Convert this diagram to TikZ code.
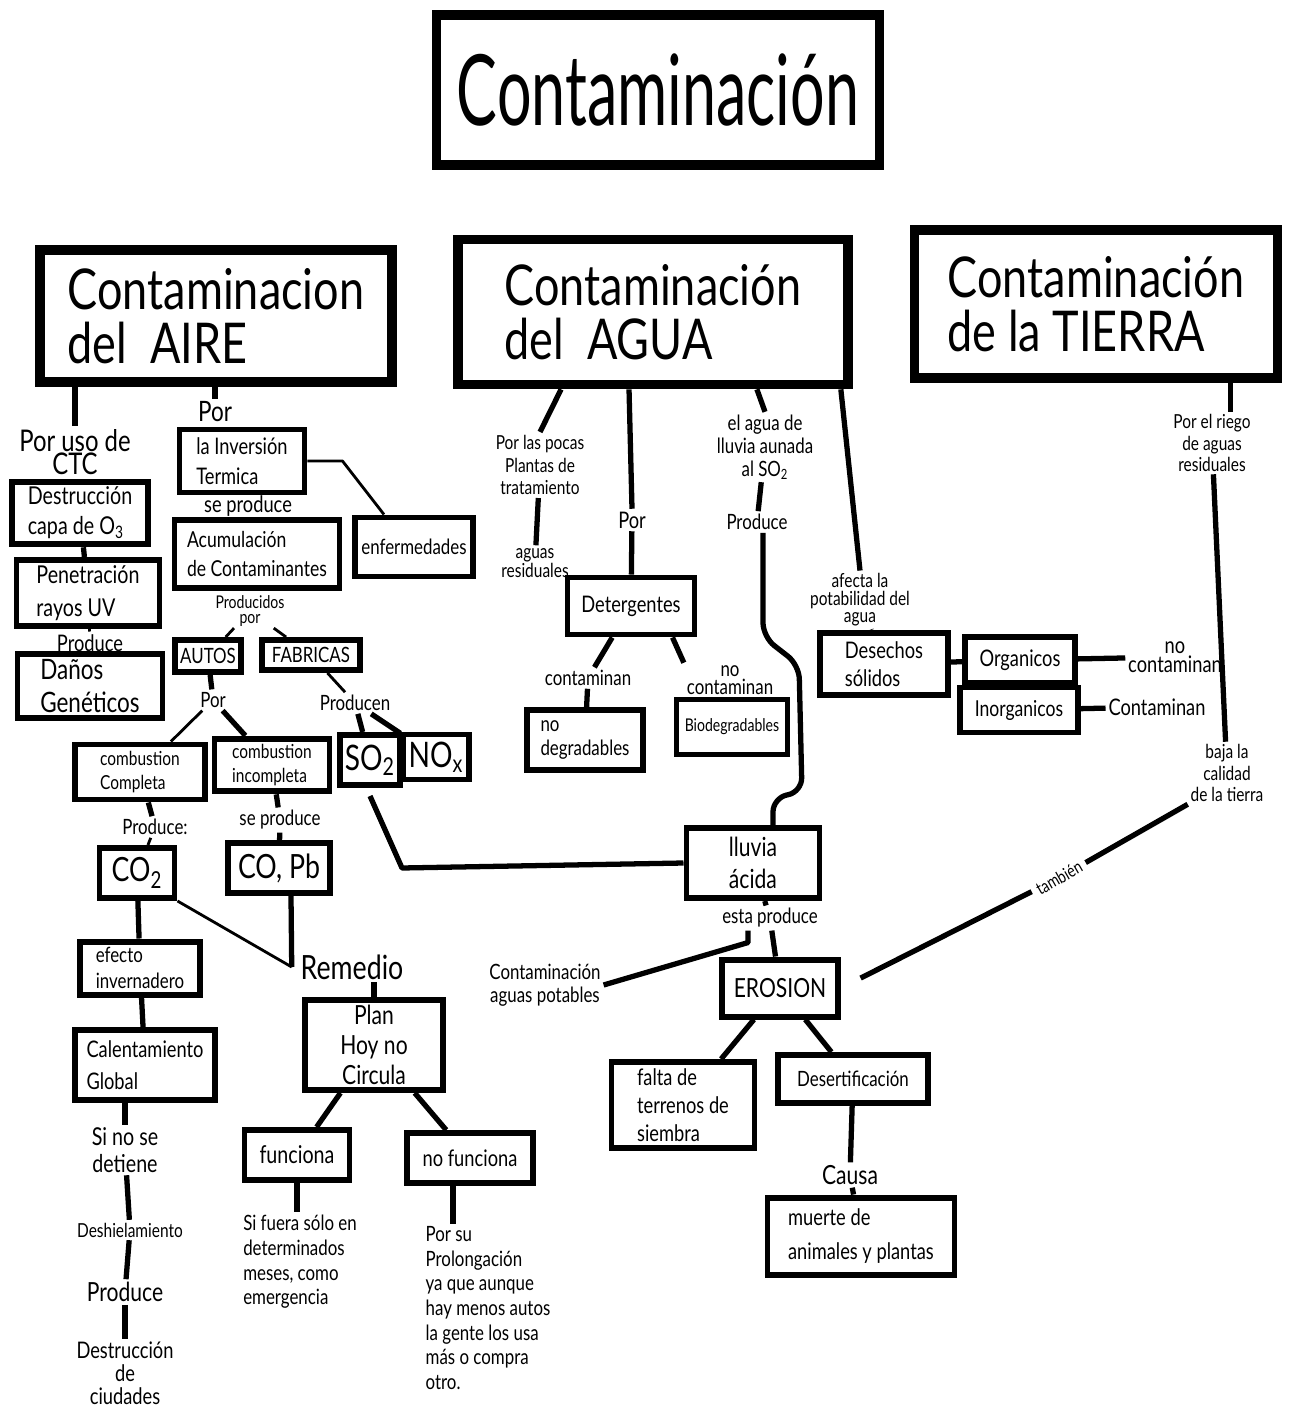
\documentclass[tikz,border=0pt]{standalone}
\usepackage{fontspec}
\setmainfont{Lato}[FakeStretch=0.8]
\newfontfamily\tallfont{Lato}[FakeStretch=0.62]
\usetikzlibrary{calc}
\newcommand\fsz[2]{\fontsize{#1}{#2}\selectfont}
\newlength\px
\setlength\px{0.2mm}

\begin{document}
\begin{tikzpicture}[x=0.2mm,y=-0.2mm,
 box/.style={draw,line width=3.4pt,align=left,inner sep=3pt},
 bigbox/.style={box,line width=5.5pt},
 lbl/.style={align=center,inner sep=1.5pt},
 ln/.style={line width=3pt,line join=round},
 lnthin/.style={line width=1.6pt,line join=round}]
 \useasboundingbox[fill=white] (0,0) rectangle (1310,1416);
 % main boxes
 \node[bigbox,minimum width=443*\px,minimum height=150*\px,align=center,font=\tallfont\fsz{56}{60}] (title) at (658,90) {Contaminación};
 \node[bigbox,minimum width=352*\px,minimum height=132*\px,font=\fsz{32}{31}] (aire) at (216,316) {Contaminacion\\del\ \ AIRE};
 \node[bigbox,minimum width=390*\px,minimum height=145*\px,font=\fsz{32}{31}] (agua) at (653,312) {Contaminación\\del\ \ AGUA};
 \node[bigbox,minimum width=363*\px,minimum height=148*\px,font=\fsz{32}{31}] (tierra) at (1096,304) {Contaminación\\de la TIERRA};

 % aire
 \node[lbl,font=\fsz{17}{13}] (ctc) at (75,452) {Por uso de\\CTC};
 \node[box,minimum width=136*\px,minimum height=57*\px,font=\fsz{14}{17}] (destr) at (80,513) {Destrucción\\capa de O\textsubscript{3}};
 \node[box,minimum width=143*\px,minimum height=63*\px,font=\fsz{14}{19}] (penet) at (88,593) {Penetración\\rayos UV};
 \node[lbl,font=\fsz{13}{13}] (produce1) at (90,643) {Produce};
 \node[box,minimum width=145*\px,minimum height=63*\px,font=\fsz{16}{19}] (danos) at (90,686) {Daños\\Genéticos};
 \node[lbl,font=\fsz{16}{16}] (por1) at (215,412) {Por};
 \node[box,minimum width=125*\px,minimum height=63*\px,font=\fsz{13}{17}] (inver) at (242,461) {la Inversión\\Termica};
 \node[lbl,font=\fsz{13}{13}] (seprod1) at (248,506) {se produce};
 \node[box,minimum width=165*\px,minimum height=68*\px,font=\fsz{12.5}{17}] (acum) at (257,554) {Acumulación\\de Contaminantes};
 \node[box,minimum width=118*\px,minimum height=59*\px,font=\fsz{12}{12}] (enferm) at (414,547) {enfermedades};
 \node[lbl,inner sep=0.5pt,font=\fsz{10}{9}] (producidos) at (250,611) {Producidos\\por};
 \node[box,minimum width=63*\px,minimum height=32*\px,font=\fsz{12}{12}] (autos) at (208,656) {AUTOS};
 \node[box,minimum width=98*\px,minimum height=30*\px,font=\fsz{12}{12}] (fabricas) at (311,655) {FABRICAS};
 \node[lbl,font=\fsz{12}{12}] (por2) at (213,700) {Por};
 \node[lbl,font=\fsz{12}{12}] (producen) at (355,703) {Producen};
 \node[box,minimum width=130*\px,minimum height=55*\px,font=\fsz{11}{14}] (compl) at (140,772) {combustion\\Completa};
 \node[box,minimum width=115*\px,minimum height=50*\px,font=\fsz{11}{14}] (incompl) at (272,765) {combustion\\incompleta};
 \node[box,minimum width=60*\px,minimum height=50*\px,font=\fsz{20}{20}] (so2) at (370,760) {SO\textsubscript{2}};
 \node[box,minimum width=58*\px,minimum height=45*\px,font=\fsz{20}{20}] (nox) at (436,757) {NO\textsubscript{x}};
 \node[lbl,font=\fsz{12}{12}] (produce2) at (155,827) {Produce:};
 \node[lbl,font=\fsz{12}{12}] (seprod2) at (280,820) {se produce};
 \node[box,minimum width=75*\px,minimum height=50*\px,font=\fsz{19}{19}] (co2) at (137,873) {CO\textsubscript{2}};
 \node[box,minimum width=102*\px,minimum height=50*\px,font=\fsz{19}{19}] (copb) at (279,868) {CO, Pb};
 \node[lbl,font=\fsz{19}{19}] (remedio) at (352,967) {Remedio};
 \node[box,minimum width=120*\px,minimum height=53*\px,font=\fsz{12}{15}] (efecto) at (140,968) {efecto\\invernadero};
 \node[box,minimum width=140*\px,minimum height=70*\px,font=\fsz{13}{18}] (calent) at (145,1065) {Calentamiento\\Global};
 \node[lbl,font=\fsz{14}{15}] (sinose) at (125,1150) {Si no se\\detiene};
 \node[lbl,font=\fsz{11}{11}] (deshielo) at (130,1230) {Deshielamiento};
 \node[lbl,font=\fsz{15}{15}] (produce3) at (125,1292) {Produce};
 \node[lbl,font=\fsz{13}{13}] (destciud) at (125,1373) {Destrucción\\de\\ciudades};
 \node[box,minimum width=138*\px,minimum height=86*\px,align=center,font=\fsz{15}{17}] (plan) at (374,1045) {Plan\\Hoy no\\Circula};
 \node[box,minimum width=105*\px,minimum height=50*\px,font=\fsz{14}{14}] (func) at (297,1155) {funciona};
 \node[box,minimum width=126*\px,minimum height=50*\px,font=\fsz{13}{13}] (nofunc) at (470,1158) {no funciona};
 \node[lbl,align=left,font=\fsz{12}{14}] (sifuera) at (300,1262) {Si fuera sólo en\\determinados\\meses, como\\emergencia};
 \node[lbl,align=left,font=\fsz{12}{14}] (porsu) at (488,1308) {Por su\\Prolongación\\ya que aunque\\hay menos autos\\la gente los usa\\más o compra\\otro.};

 % agua
 \node[lbl,font=\fsz{11}{13}] (pocas) at (540,465) {Por las pocas\\Plantas de\\tratamiento};
 \node[lbl,font=\fsz{11}{11}] (aguasres) at (535,563) {aguas\\residuales};
 \node[lbl,font=\fsz{13}{13}] (por3) at (632,520) {Por};
 \node[box,minimum width=127*\px,minimum height=57*\px,font=\fsz{13}{13}] (deterg) at (631,606) {Detergentes};
 \node[lbl,font=\fsz{12}{12}] (contam1) at (588,678) {contaminan};
 \node[lbl,font=\fsz{12}{10}] (nocont1) at (730,680) {no\\contaminan};
 \node[box,minimum width=116*\px,minimum height=60*\px,font=\fsz{12}{14}] (nodegr) at (585,740) {no\\degradables};
 \node[box,minimum width=111*\px,minimum height=55*\px,font=\fsz{10}{10}] (biodeg) at (732,727) {Biodegradables};
 \node[lbl,font=\fsz{12}{13}] (elagua) at (765,447) {el agua de\\lluvia aunada\\al SO\textsubscript{2}};
 \node[lbl,font=\fsz{12}{12}] (produce4) at (757,522) {Produce};
 \node[lbl,font=\fsz{11}{10}] (afecta) at (860,600) {afecta la\\potabilidad del\\agua};
 \node[box,minimum width=128*\px,minimum height=62*\px,font=\fsz{13}{16}] (desech) at (884,664) {Desechos\\sólidos};
 \node[box,minimum width=110*\px,minimum height=46*\px,font=\fsz{13}{13}] (organ) at (1020,660) {Organicos};
 \node[box,minimum width=118*\px,minimum height=45*\px,font=\fsz{12.5}{13}] (inorg) at (1019,710) {Inorganicos};
 \node[lbl,font=\fsz{13}{11}] (nocont2) at (1175,657) {no\\contaminan};
 \node[lbl,font=\fsz{13}{13}] (contam2) at (1157,707) {Contaminan};
 \node[box,minimum width=133*\px,minimum height=70*\px,font=\fsz{15}{18}] (lluvia) at (753,863) {lluvia\\ácida};
 \node[lbl,font=\fsz{12}{12}] (estaprod) at (770,918) {esta produce};
 \node[lbl,font=\fsz{12}{13}] (contagua) at (545,985) {Contaminación\\aguas potables};
 \node[box,minimum width=116*\px,minimum height=57*\px,font=\fsz{15}{15}] (erosion) at (780,988) {EROSION};
 \node[box,minimum width=143*\px,minimum height=86*\px,font=\fsz{13}{16}] (falta) at (683,1105) {falta de\\terrenos de\\siembra};
 \node[box,minimum width=150*\px,minimum height=48*\px,font=\fsz{12}{12}] (desert) at (853,1079) {Desertificación};
 \node[lbl,font=\fsz{15}{15}] (causa) at (850,1175) {Causa};
 \node[box,minimum width=187*\px,minimum height=77*\px,font=\fsz{13}{19}] (muerte) at (861,1236) {muerte de\\animales y plantas};

 % tierra
 \node[lbl,font=\fsz{11}{12}] (riego) at (1212,443) {Por el riego\\de aguas\\residuales};
 \node[lbl,font=\fsz{11}{12}] (bajala) at (1227,773) {baja la\\calidad\\de la tierra};
 \path (bajala.south west) -- node[pos=0.4,sloped,inner sep=3pt,font=\fsz{10}{10}] (tamb) {también} ($(erosion.east)+(25,0)$);

 % connectors aire
 \draw[ln] (ctc.north |- aire.south) -- (ctc.north);
 \draw[ln] (destr) -- (penet);
 \draw[lnthin] (penet) -- (produce1);
 \draw[ln] (por1.north |- aire.south) -- (por1.north);
 \draw[lnthin] (inver.east) -- ++(35,0) -- ($(enferm.north)+(-30,0)$);
 \draw[lnthin] (producidos) -- (autos);
 \draw[lnthin] (producidos) -- (fabricas);
 \draw[ln] (autos) -- (por2);
 \draw[lnthin] (por2) -- (compl);
 \draw[ln] (por2) -- (incompl);
 \draw[lnthin] (fabricas) -- (producen);
 \draw[ln] (producen) -- (so2);
 \draw[ln] (producen) -- (nox);
 \draw[ln] ($(so2.south)+(0,8)$) -- ++(32,72) -- (lluvia.west);
 \draw[ln] (compl) -- (produce2);
 \draw[lnthin] (produce2) -- (co2);
 \draw[ln] (incompl) -- (seprod2);
 \draw[ln] (seprod2) -- (copb);
 \coordinate (rjoin) at ($(remedio.west)+(-6,0)$);
 \draw[lnthin] (co2.south east) -- (rjoin);
 \draw[ln] ($(copb.south)+(12,0)$) -- (rjoin);
 \draw[ln] (co2) -- (efecto);
 \draw[ln] (efecto) -- (calent);
 \draw[ln] (sinose.north |- calent.south) -- (sinose.north);
 \draw[ln] (sinose) -- (deshielo);
 \draw[ln] (deshielo) -- (produce3);
 \draw[ln] (produce3) -- (destciud);
 \draw[ln] (plan.north |- remedio.south) -- (plan.north);
 \draw[ln] (plan) -- (func);
 \draw[ln] (plan) -- (nofunc);
 \draw[ln] (func.south) -- (func.south |- sifuera.north);
 \coordinate (nf) at ($(nofunc.south)+(-17,0)$);
 \draw[ln] (nf) -- (nf |- porsu.north);

 % connectors agua
 \draw[ln] ($(agua.south west)!0.27!(agua.south east)$) -- (pocas.north);
 \draw[ln] (pocas) -- (aguasres);
 \draw[ln] ($(agua.south west)!0.44!(agua.south east)$) -- (por3.north);
 \draw[ln] (por3) -- (deterg);
 \draw[ln] (deterg) -- (contam1);
 \draw[ln] (contam1) -- (nodegr);
 \draw[ln] ($(deterg.south east)+(-25,0)$) -- (nocont1.north west);
 \draw[ln] ($(agua.south west)!0.76!(agua.south east)$) -- (elagua.north);
 \draw[ln] (elagua) -- (produce4);
 \draw[ln,rounded corners=8pt] ($(produce4.south)+(6,0)$) -- ++(0,104) -- ++(36,28) -- ++(3,127) -- ++(-29,6) -- ($(lluvia.north)+(20,0)$);
 \draw[ln] ($(agua.south west)!0.97!(agua.south east)$) -- (afecta.north);
 \draw[ln] (afecta) -- (desech);
 \draw[ln] (desech) -- (organ);
 \draw[ln] (organ) -- (nocont2);
 \draw[ln] (inorg) -- (contam2);
 \draw[ln] (lluvia) -- (estaprod);
 \draw[ln] (estaprod) -- (erosion);
 \draw[ln] ($(estaprod.south)+(-22,0)$) -- ++(0,12) -- (contagua.east);
 \draw[ln] (erosion) -- (falta);
 \draw[ln] (erosion) -- (desert);
 \draw[ln] (desert) -- (causa);
 \draw[ln] (causa) -- (muerte);

 % connectors tierra
 \draw[ln] ($(tierra.south west)!0.86!(tierra.south east)$) coordinate (tr) -- (tr |- riego.north);
 \draw[ln] (riego) -- (bajala);
 \draw[ln] (bajala.south west) -- (tamb);
 \draw[ln,shorten >=4.4mm] (tamb) -- (erosion.east);
\end{tikzpicture}
\end{document}
